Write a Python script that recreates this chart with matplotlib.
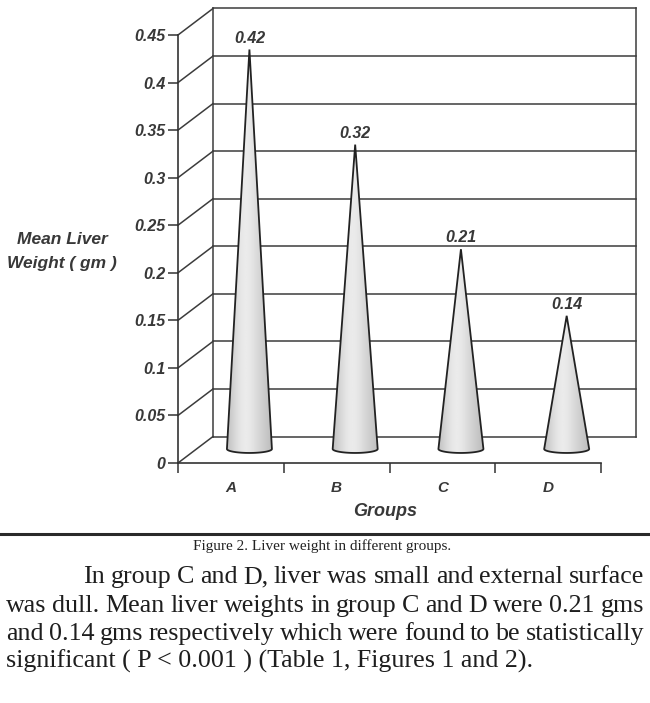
import numpy as np
import matplotlib
matplotlib.use("Agg")
import matplotlib.pyplot as plt
from matplotlib.patches import Polygon

# ---------------- data ----------------
groups = ["A", "B", "C", "D"]
liver_weight = [0.42, 0.32, 0.21, 0.14]
value_labels = ["0.42", "0.32", "0.21", "0.14"]
y_ticks = [0, 0.05, 0.1, 0.15, 0.2, 0.25, 0.3, 0.35, 0.4, 0.45]
y_tick_labels = ["0", "0.05", "0.1", "0.15", "0.2", "0.25", "0.3", "0.35", "0.4", "0.45"]
y_label_lines = ["Mean Liver", "Weight ( gm )"]
x_label = "Groups"
caption = "Figure 2. Liver weight in different groups."
paragraph_lines = [
    "In group C and D, liver was small  and external surface",
    "was dull. Mean liver weights in group C and D were 0.21 gms",
    "and 0.14 gms respectively which were found to be statistically",
    "significant ( P < 0.001 ) (Table 1, Figures 1 and 2).",
]

W, H = 650, 703
fig = plt.figure(figsize=(W / 100, H / 100), dpi=100)
fig.patch.set_facecolor("white")

def fx(px):
    return px / W

def fy(py):  # py measured from top
    return 1 - py / H

# front frame of the 3-D chart
L, R, T, B = 178, 601, 35, 463
ax = fig.add_axes([fx(L), fy(B), fx(R) - fx(L), (B - T) / H])
ax.set_xlim(0, 4)
ax.set_ylim(0, 0.45)
ax.patch.set_alpha(0)

line_col = "#333333"
grid_col = "#3c3c3c"
txt_col = "#383838"

for s in ["top", "right"]:
    ax.spines[s].set_visible(False)
for s in ["left", "bottom"]:
    ax.spines[s].set_color(line_col)
    ax.spines[s].set_linewidth(1.2)

ax.set_yticks(y_ticks)
ax.set_yticklabels(y_tick_labels)
ax.tick_params(axis="y", direction="out", length=7, width=1.1, color=line_col,
               pad=2, labelsize=11.5, labelcolor=txt_col)
for t in ax.get_yticklabels():
    t.set_fontfamily("Liberation Sans")
    t.set_fontstyle("italic")
    t.set_fontweight("bold")

ax.set_xticks([0, 1, 2, 3, 4])
ax.set_xticklabels([])
ax.tick_params(axis="x", which="major", direction="out", length=7, width=1.1, color=line_col)
ax.set_xticks([0.5, 1.5, 2.5, 3.5], minor=True)
ax.set_xticklabels(groups, minor=True)
ax.tick_params(axis="x", which="minor", length=0, pad=13, labelsize=11, labelcolor=txt_col)
for t in ax.get_xticklabels(minor=True):
    t.set_fontfamily("Liberation Sans")
    t.set_fontstyle("italic")
    t.set_fontweight("bold")

# depth offset (in data units) of the back wall
DX = 35 * 4 / (R - L)
DY = 26.5 * 0.45 / (B - T)

def proj(x, y, f):
    return x + f * DX, y + f * DY

ymax = y_ticks[-1]
# back wall gridlines
for yv in y_ticks:
    x1, y1 = proj(0, yv, 1)
    x2, y2 = proj(4, yv, 1)
    ax.plot([x1, x2], [y1, y2], color=grid_col, lw=1.1, clip_on=False, zorder=1)
    # side wall diagonals
    ax.plot([0, x1], [yv, y1], color=grid_col, lw=1.1, clip_on=False, zorder=1)
# back verticals
for xv in [0, 4]:
    x1, y1 = proj(xv, 0, 1)
    x2, y2 = proj(xv, ymax, 1)
    ax.plot([x1, x2], [y1, y2], color=grid_col, lw=1.1, clip_on=False, zorder=1)

# cones
FC = 0.53                     # depth position of cone axis
half_w = 22.5 * 4 / (R - L)   # base radius (x units)
half_h = 4.0 * 0.45 / (B - T) # base ellipse half height (y units)

grad_u = np.linspace(0, 1, 200)
shade = 0.79 + 0.13 * np.exp(-((grad_u - 0.42) / 0.3) ** 2) - 0.06 * (np.abs(grad_u - 0.5) * 2) ** 4
grad_img = np.tile(shade, (40, 1))

for i, v in enumerate(liver_weight):
    cx, cy = proj(i + 0.5, 0, FC)
    ax_x, ax_y = proj(i + 0.5, v, FC)
    th = np.linspace(np.pi, 2 * np.pi, 60)
    arc_x = cx + half_w * np.cos(th)
    arc_y = cy + half_h * np.sin(th)
    xs = np.concatenate([[ax_x], arc_x])
    ys = np.concatenate([[ax_y], arc_y])
    poly = Polygon(np.column_stack([xs, ys]), closed=True, facecolor="none",
                   edgecolor="#222222", lw=1.3, zorder=4, clip_on=False)
    ax.add_patch(poly)
    im = ax.imshow(grad_img, cmap="gray", vmin=0, vmax=1, aspect="auto",
                   extent=[cx - half_w, cx + half_w, cy - half_h, ax_y],
                   zorder=3, interpolation="bilinear")
    im.set_clip_path(poly)
    ax.text(ax_x, ax_y + 0.004, value_labels[i], ha="center", va="bottom",
            fontsize=11.5, fontstyle="italic", fontweight="bold",
            family="Liberation Sans", color=txt_col, zorder=5)

ax.set_xlim(0, 4)
ax.set_ylim(0, 0.45)

# axis titles
for py, s in zip([239, 263], y_label_lines):
    fig.text(fx(62), fy(py), s, ha="center", va="center", fontsize=12.5,
             fontstyle="italic", fontweight="bold", family="Liberation Sans",
             color=txt_col)
fig.text(fx(385), fy(511), x_label, ha="center", va="center", fontsize=13,
         fontstyle="italic", fontweight="bold", family="Liberation Sans",
         color=txt_col)

# separator rule
fig.add_artist(plt.Line2D([0, 1], [fy(534), fy(534)], color="#2a2a2a", lw=2.2))

# caption
fig.text(fx(322), fy(550), caption, ha="center", va="baseline", fontsize=11,
         family="Liberation Serif", color="#222222")

# justified paragraph
renderer = fig.canvas.get_renderer()
pfs = 18.7
baselines = [583, 612, 640, 668]
lefts = [83, 6, 6, 6]
right_edge = 644
for k, line in enumerate(paragraph_lines):
    if k == len(paragraph_lines) - 1:
        fig.text(fx(lefts[k]), fy(baselines[k]), line, ha="left", va="baseline",
                 fontsize=pfs, family="Liberation Serif", color="#1e1e1e")
        continue
    words = line.split()
    texts = [fig.text(0, fy(baselines[k]), w, ha="left", va="baseline",
                      fontsize=pfs, family="Liberation Serif", color="#1e1e1e")
             for w in words]
    widths = [t.get_window_extent(renderer).width for t in texts]
    gap = (right_edge - lefts[k] - sum(widths)) / (len(words) - 1)
    xpos = lefts[k]
    for t, wd in zip(texts, widths):
        t.set_x(fx(xpos))
        xpos += wd + gap

fig.savefig("out.png", dpi=100, facecolor="white")
